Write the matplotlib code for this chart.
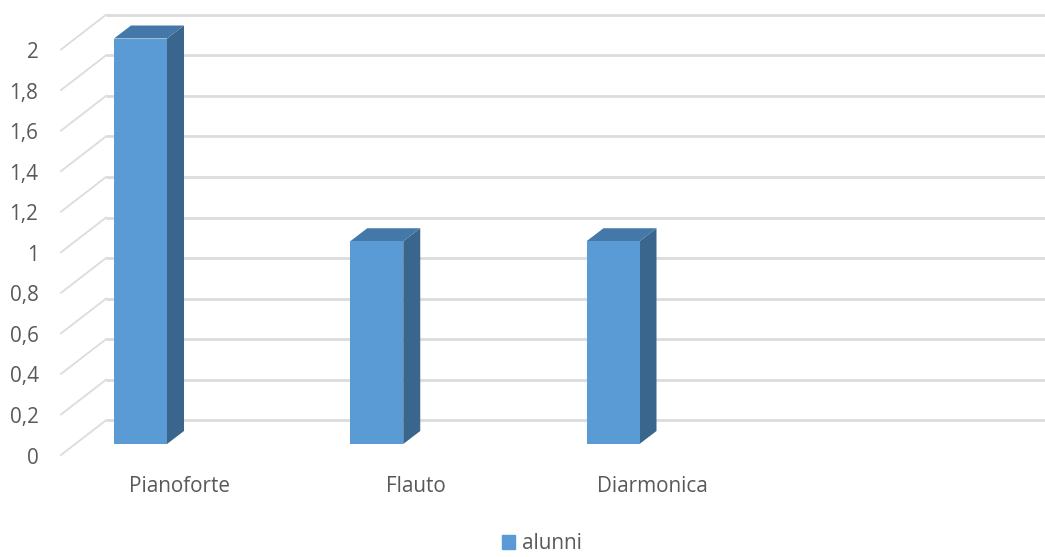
import matplotlib
matplotlib.use('Agg')
import matplotlib.pyplot as plt
from matplotlib.patches import Patch

categories = ['Pianoforte', 'Flauto', 'Diarmonica']
alunni = [2, 1, 1]
tick_vals = [0, 0.2, 0.4, 0.6, 0.8, 1, 1.2, 1.4, 1.6, 1.8, 2]
tick_labels = ['0', '0,2', '0,4', '0,6', '0,8', '1', '1,2', '1,4', '1,6', '1,8', '2']

# layout, measured on the picture in pixels
W, H = 1045, 557
CAT_STEP = 236.25     # px between categories
CAT0 = 140.5          # px centre of first bar
UNIT = 202.75         # px per 1.0 on the value axis
BASE = 444.0          # px row of value 0 at the bar front

def xpx(p):
    return (p - CAT0) / CAT_STEP

def ypx(p):
    return (BASE - p) / UNIT

def dx(p):
    return p / CAT_STEP

def dy(p):
    return p / UNIT

FRONT = '#5b9bd5'
SIDE = '#3a658c'
TOP = '#4478a8'
GRID = '#dcdcdc'
TEXT = '#595959'
FONT = 'Open Sans'
FS = 14.9

fig = plt.figure(figsize=(W / 100, H / 100), dpi=100)
ax = fig.add_axes([0, 0, 1, 1])
ax.set_xlim(xpx(0), xpx(W))
ax.set_ylim(ypx(H), ypx(0))
ax.axis('off')

# wall gridlines and the diagonals of the floor edge
for v, lab in zip(tick_vals, tick_labels):
    wall = v + dy(23.7)
    front = v - dy(11)
    ax.plot([xpx(106), xpx(W)], [wall, wall], color=GRID, lw=2.0, zorder=1,
            solid_capstyle='butt')
    ax.plot([xpx(61), xpx(106)], [front, wall], color=GRID, lw=1.3, zorder=1)
    ax.text(xpx(38.5), front - dy(3), lab, ha='right', va='center', color=TEXT,
            fontsize=FS, family=FONT)

# bars
bar_w = dx(53)
depth_x = dx(17)
depth_y = dy(13)
for i, (name, val) in enumerate(zip(categories, alunni)):
    r = i + bar_w / 2
    l = i - bar_w / 2
    ax.fill([r, r + depth_x, r + depth_x, r],
            [0, depth_y, val + depth_y, val], color=SIDE, lw=0, zorder=2)
    ax.fill([l, l + depth_x, r + depth_x, r],
            [val, val + depth_y, val + depth_y, val], color=TOP, lw=0, zorder=2)
    ax.bar(i, val, width=bar_w, color=FRONT, zorder=3)
    ax.text(i + dx(39), ypx(486.5), name, ha='center', va='center', color=TEXT,
            fontsize=FS, family=FONT)

leg = ax.legend(handles=[Patch(color=FRONT, label='alunni')], loc='center',
                bbox_to_anchor=(542 / W, 1 - 543.5 / H), frameon=False,
                handlelength=0.65, handleheight=0.65, handletextpad=0.35,
                prop={'family': FONT, 'size': FS}, labelcolor=TEXT)

fig.savefig('out.png', dpi=100)
plt.close()
